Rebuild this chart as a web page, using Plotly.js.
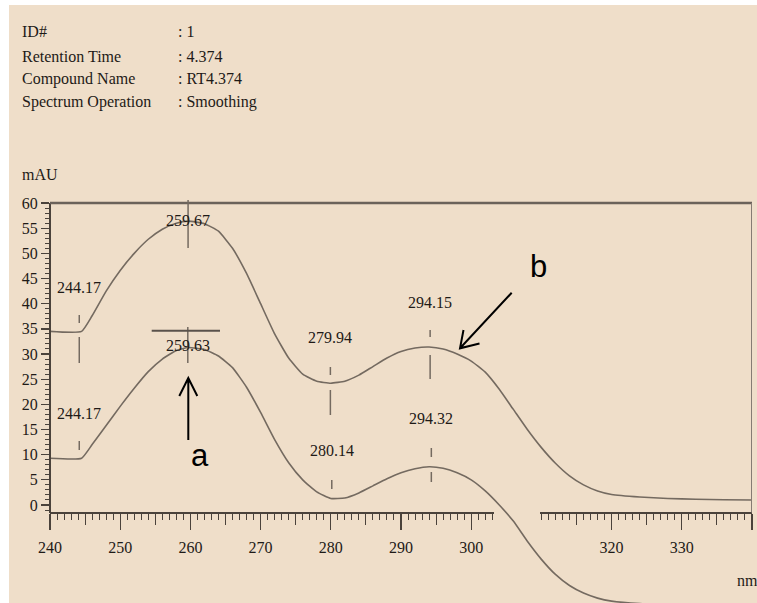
<!DOCTYPE html>
<html><head><meta charset="utf-8">
<script src="https://cdn.plot.ly/plotly-3.0.1.min.js"></script>
<style>html,body{margin:0;padding:0;background:#fff;} #c{width:757px;height:603px;}</style>
</head><body><div id="c"></div>
<script>
// ---------------- data ----------------
const wavelength = [240, 244.5, 246, 248, 250, 252, 254, 256, 258, 259.7, 262, 264, 266, 268, 270, 272, 274, 276, 278, 280, 282, 284, 286, 288, 290, 292, 294, 296, 298, 300, 302, 304, 306, 308, 310, 312, 314, 316, 318, 320, 324, 328, 332, 336, 340];
const upperAbs = [34.5, 34.5, 37.6, 42.5, 46.6, 50.0, 52.8, 54.8, 56.0, 56.4, 55.9, 54.4, 51.0, 46.0, 40.0, 34.0, 29.2, 26.0, 24.6, 24.2, 24.6, 25.8, 27.5, 29.2, 30.5, 31.2, 31.4, 31.0, 30.0, 28.6, 26.4, 23.0, 19.0, 15.0, 11.4, 8.3, 5.8, 4.0, 2.8, 2.1, 1.6, 1.3, 1.15, 1.05, 1.0];
const lowerAbs = [9.3, 9.3, 12.0, 15.8, 19.6, 23.2, 26.5, 29.0, 30.7, 31.3, 30.9, 29.6, 27.3, 23.4, 18.4, 13.0, 8.4, 5.0, 2.6, 1.3, 1.4, 2.4, 3.8, 5.2, 6.4, 7.2, 7.6, 7.3, 6.4, 5.0, 2.8, 0.0, -3.2, -7.2, -10.8, -13.8, -16.0, -17.5, -18.5, -19.1, -19.6, -19.8, -19.9, -20.0, -20.0];
const upperPeaks = [244.17, 259.67, 279.94, 294.15];
const lowerPeaks = [244.17, 259.63, 280.14, 294.32];
const headerKeys = ["ID#", "Retention Time", "Compound Name", "Spectrum Operation"];
const headerVals = [": 1", ": 4.374", ": RT4.374", ": Smoothing"];
const xLabelsSeg2 = [320, 330, 340];

// ---------------- geometry ----------------
const W = 757, H = 603, L = 50, R = 5;
const X0 = 240, X1 = 340;
const PY0 = 505, PYU = 5.033;
const yv = py => (PY0 - py) / PYU;
const xv = px => X0 + (px - L) * (X1 - X0) / (W - L - R);
const Y0 = yv(H), Y1 = yv(0);
const fy = v => (v - Y0) / (Y1 - Y0);
const fx = v => (v - X0) / (X1 - X0);
const pxX = px => (px - L) / (W - L - R);
const pyY = py => (H - py) / H;
const AX = -1.5;
const GAP0 = 303.2, GAP1 = 309.8;

const BG = '#efdec9', CURVE = '#746a60', AXC = '#4a423b', TXT = '#1e1a17';
const serif = 'Liberation Serif, Times New Roman, serif';
const tf = {family: serif, size: 16, color: TXT};

const traces = [
  {x: wavelength, y: upperAbs, mode: 'lines', line: {color: CURVE, width: 1.6, shape: 'spline', smoothing: 0.45}, hoverinfo: 'skip'},
  {x: wavelength, y: lowerAbs, mode: 'lines', line: {color: CURVE, width: 1.6, shape: 'spline', smoothing: 0.45}, hoverinfo: 'skip'},
  {x: [], y: [], xaxis: 'x2', yaxis: 'y'},
  {x: [], y: [], xaxis: 'x3', yaxis: 'y'},
  {x: [], y: [], xaxis: 'x4', yaxis: 'y'},
  {x: [], y: [], xaxis: 'x5', yaxis: 'y'},
  {x: [], y: [], xaxis: 'x', yaxis: 'y2'}
];

const baseX = {anchor: 'free', position: fy(AX), showgrid: false, zeroline: false, fixedrange: true,
  linecolor: AXC, linewidth: 2, tickcolor: AXC, tickfont: tf};

const layout = {
  width: W, height: H, margin: {l: L, r: R, t: 0, b: 0, pad: 0},
  paper_bgcolor: '#ffffff', plot_bgcolor: 'rgba(0,0,0,0)', showlegend: false,
  xaxis: {range: [X0, X1], domain: [0, 1], visible: false, fixedrange: true},
  yaxis: {range: [Y0, Y1], domain: [0, 1], visible: false, fixedrange: true},
  xaxis2: Object.assign({}, baseX, {range: [X0, GAP0], domain: [0, fx(GAP0)], showline: true,
    ticks: 'outside', tickmode: 'linear', tick0: 240, dtick: 10, ticklen: 16, tickwidth: 1.3, ticklabelstandoff: 4,
    minor: {tickmode: 'linear', tick0: 240, dtick: 1, ticks: 'outside', ticklen: 6, tickwidth: 1, tickcolor: AXC, showgrid: false}}),
  xaxis3: Object.assign({}, baseX, {range: [GAP1, X1], domain: [fx(GAP1), 1], showline: true,
    ticks: 'outside', tickmode: 'array', tickvals: xLabelsSeg2, ticktext: xLabelsSeg2.map(v => v < 340 ? String(v) : ''),
    ticklen: 16, tickwidth: 1.3, ticklabelstandoff: 4,
    minor: {tickmode: 'linear', tick0: 240, dtick: 1, ticks: 'outside', ticklen: 6, tickwidth: 1, tickcolor: AXC, showgrid: false}}),
  xaxis4: Object.assign({}, baseX, {range: [X0, GAP0], domain: [0, fx(GAP0)], showline: false,
    ticks: 'outside', tickmode: 'linear', tick0: 245, dtick: 10, ticklen: 11, tickwidth: 1.2, showticklabels: false}),
  xaxis5: Object.assign({}, baseX, {range: [GAP1, X1], domain: [fx(GAP1), 1], showline: false,
    ticks: 'outside', tickmode: 'linear', tick0: 245, dtick: 10, ticklen: 11, tickwidth: 1.2, showticklabels: false}),
  yaxis2: {range: [AX, 60], domain: [fy(AX), fy(60)], anchor: 'free', position: 0, showgrid: false, zeroline: false, fixedrange: true,
    showline: true, linecolor: AXC, linewidth: 2, ticks: 'outside', tickmode: 'linear', tick0: 0, dtick: 5, ticklen: 8, tickwidth: 1.3,
    tickcolor: AXC, tickfont: tf, ticklabelstandoff: 0,
    minor: {tickmode: 'linear', tick0: 0, dtick: 1, ticks: 'outside', ticklen: 4, tickwidth: 1, tickcolor: AXC, showgrid: false}},
  shapes: [],
  annotations: []
};

// background panel (white strip at left/top)
layout.shapes.push({type: 'rect', xref: 'paper', yref: 'paper', x0: pxX(9), x1: pxX(W + 2), y0: pyY(H + 2), y1: pyY(5),
  fillcolor: BG, line: {width: 0}, layer: 'below'});
// frame: top line and right border
layout.shapes.push({type: 'line', xref: 'x', yref: 'y', x0: X0, x1: X1, y0: 60, y1: 60, line: {color: '#6b625a', width: 2.6}});
layout.shapes.push({type: 'line', xref: 'x', yref: 'y', x0: X1, x1: X1, y0: AX, y1: 60, line: {color: '#857c73', width: 2}});

// peak marker ticks (pixel spans)
const upperMarks = [[[315, 323], [337, 363]], [[200, 248]], [[367, 375], [390, 415]], [[330, 337], [355, 379]]];
const lowerMarks = [[[441, 450]], [[327, 363]], [[480, 489]], [[448, 457], [472, 482]]];
function addMarks(peaks, marks) {
  peaks.forEach((p, i) => marks[i].forEach(s => layout.shapes.push({type: 'line', xref: 'x', yref: 'y',
    x0: p, x1: p, y0: yv(s[0]), y1: yv(s[1]), line: {color: CURVE, width: 1.5}})));
}
addMarks(upperPeaks, upperMarks);
addMarks(lowerPeaks, lowerMarks);
// overbar above the 259.63 label
layout.shapes.push({type: 'line', xref: 'x', yref: 'y', x0: xv(151.7), x1: xv(220), y0: yv(330.7), y1: yv(330.7), line: {color: '#5a524b', width: 2}});

// arrows a and b (open heads)
function arrow(tail, tip, arm1, arm2) {
  const P = p => xv(p[0]) + ',' + yv(p[1]);
  layout.shapes.push({type: 'path', xref: 'x', yref: 'y',
    path: 'M' + P(tail) + ' L' + P(tip) + ' M' + P(arm1) + ' L' + P(tip) + ' L' + P(arm2),
    line: {color: '#000000', width: 2}});
}
arrow([188.3, 440], [188.3, 378], [179.3, 396], [197.3, 396]);
arrow([511.7, 292.7], [460, 348.3], [463.5, 330], [479.5, 343.5]);

// peak labels
const upperLabelPy = [287, 220, 337, 302];
const lowerLabelPy = [413, 345, 450, 418];
function addLabels(peaks, pys) {
  peaks.forEach((p, i) => layout.annotations.push({xref: 'x', yref: 'y', x: p, y: yv(pys[i]), text: p.toFixed(2),
    showarrow: false, xanchor: 'center', yanchor: 'middle', font: tf}));
}
addLabels(upperPeaks, upperLabelPy);
addLabels(lowerPeaks, lowerLabelPy);

// header block
const headerPy = [32, 56, 79, 102];
headerKeys.forEach((k, i) => {
  layout.annotations.push({xref: 'paper', yref: 'paper', x: pxX(20), y: pyY(headerPy[i]), text: k, showarrow: false,
    xanchor: 'left', yanchor: 'middle', font: tf});
  layout.annotations.push({xref: 'paper', yref: 'paper', x: pxX(176), y: pyY(headerPy[i]), text: headerVals[i], showarrow: false,
    xanchor: 'left', yanchor: 'middle', font: tf});
});
layout.annotations.push({xref: 'paper', yref: 'paper', x: pxX(20), y: pyY(174), text: 'mAU', showarrow: false,
  xanchor: 'left', yanchor: 'middle', font: tf});
layout.annotations.push({xref: 'paper', yref: 'paper', x: pxX(735), y: pyY(580), text: 'nm', showarrow: false,
  xanchor: 'left', yanchor: 'middle', font: tf});
// a / b letters
const sans = {family: 'Liberation Sans, Arial, sans-serif', size: 31, color: '#000'};
layout.annotations.push({xref: 'paper', yref: 'paper', x: pxX(200), y: pyY(455), text: 'a', showarrow: false, xanchor: 'center', yanchor: 'middle', font: sans});
layout.annotations.push({xref: 'paper', yref: 'paper', x: pxX(538), y: pyY(266), text: 'b', showarrow: false, xanchor: 'center', yanchor: 'middle', font: sans});

Plotly.newPlot('c', traces, layout, {staticPlot: true, displayModeBar: false});
</script>
</body></html>
